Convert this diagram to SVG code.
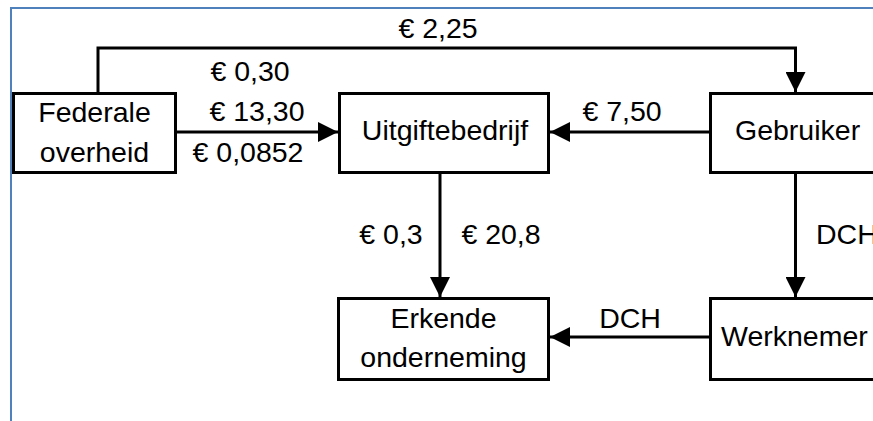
<svg xmlns="http://www.w3.org/2000/svg" width="873" height="421" viewBox="0 0 873 421">
<defs>
<style>
.box{fill:#fff;stroke:#000;stroke-width:3}
.t{font-family:"Liberation Sans",Arial,sans-serif;font-size:28.5px;fill:#000}
.c{text-anchor:middle}
.ln{fill:none;stroke:#000;stroke-width:3}
</style>
<marker id="ah" viewBox="0 0 20 20" refX="20" refY="10" markerWidth="20" markerHeight="20" markerUnits="userSpaceOnUse" orient="auto">
<path d="M0,0 L20,10 L0,20 Z" fill="#000"/>
</marker>
</defs>
<rect width="873" height="421" fill="#fff"/>
<path d="M11,421 V8 H873" fill="none" stroke="#4F81BD" stroke-width="2"/>
<g id="connectors">
<path class="ln" d="M98,92 V48 H795.5 V92" marker-end="url(#ah)"/>
<path class="ln" d="M177,132 H338" marker-end="url(#ah)"/>
<path class="ln" d="M709,132 H550" marker-end="url(#ah)"/>
<path class="ln" d="M440,174 V297" marker-end="url(#ah)"/>
<path class="ln" d="M795.5,174 V297" marker-end="url(#ah)"/>
<path class="ln" d="M709,337 H550" marker-end="url(#ah)"/>
</g>
<g id="labels">
<text class="t c" x="438" y="38">€ 2,25</text>
<text class="t c" x="250" y="81">€ 0,30</text>
<text class="t c" x="257" y="121">€ 13,30</text>
<text class="t c" x="248" y="162">€ 0,0852</text>
<text class="t c" x="622" y="121">€ 7,50</text>
<text class="t c" x="391" y="244">€ 0,3</text>
<text class="t c" x="501" y="244">€ 20,8</text>
<text class="t" x="816" y="244">DCH</text>
<text class="t c" x="630" y="328">DCH</text>
</g>
<g id="federale">
<rect class="box" x="13.5" y="93.5" width="162" height="79"/>
<text class="t c" x="94.5" y="121.5">Federale</text>
<text class="t c" x="94.5" y="162">overheid</text>
</g>
<g id="uitgiftebedrijf">
<rect class="box" x="339.5" y="93.5" width="209" height="79"/>
<text class="t c" x="445" y="140">Uitgiftebedrijf</text>
</g>
<g id="gebruiker">
<rect class="box" x="710.5" y="93.5" width="175" height="79"/>
<text class="t" x="735" y="140">Gebruiker</text>
</g>
<g id="erkende">
<rect class="box" x="338.5" y="298.5" width="210" height="81"/>
<text class="t c" x="443.5" y="328">Erkende</text>
<text class="t c" x="443.5" y="367">onderneming</text>
</g>
<g id="werknemer">
<rect class="box" x="710.5" y="298.5" width="175" height="81"/>
<text class="t" x="721" y="346">Werknemer</text>
</g>
</svg>
